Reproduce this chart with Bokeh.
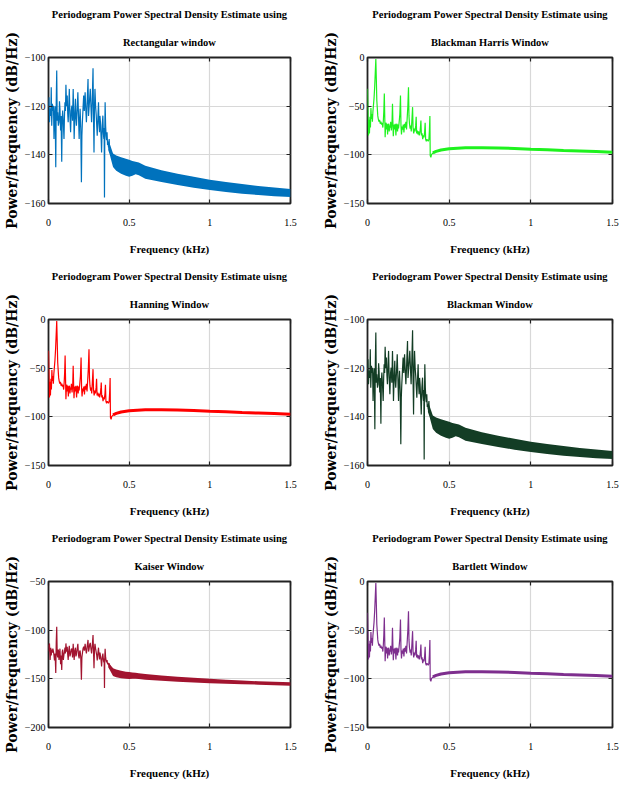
from bokeh.plotting import figure
from bokeh.layouts import gridplot
from bokeh.models import LinearAxis, FixedTicker, Title, Range1d
from bokeh.embed import file_html
from bokeh.resources import INLINE

# ---------------- data ----------------
freq_ticks = [0, 0.5, 1, 1.5]
freq_tick_labels = ["0", "0.5", "1", "1.5"]
rect_yticks = [-160, -140, -120, -100]
harris_yticks = [-150, -100, -50, 0]
kaiser_yticks = [-200, -150, -100, -50]

title_top = "Periodogram Power Spectral Density Estimate using"
title_top_hann = "Periodogram Power Spectral Density Estimate uisng"
window_names = ["Rectangular window", "Blackman Harris Window", "Hanning Window",
                "Blackman Window", "Kaiser Window", "Bartlett Window"]

# Rectangular window, 0 - 0.4 kHz (kHz, dB/Hz)
rect_f = [
    0.000, 0.003, 0.006, 0.010, 0.014, 0.017, 0.020, 0.024, 0.027, 0.031,
    0.034, 0.037, 0.041, 0.045, 0.048, 0.051, 0.054, 0.057, 0.061, 0.065,
    0.068, 0.071, 0.075, 0.078, 0.082, 0.085, 0.088, 0.092, 0.096, 0.099,
    0.102, 0.105, 0.108, 0.112, 0.116, 0.119, 0.122, 0.126, 0.129, 0.133,
    0.137, 0.141, 0.145, 0.149, 0.153, 0.156, 0.159, 0.163, 0.167, 0.170,
    0.173, 0.178, 0.182, 0.186, 0.190, 0.193, 0.196, 0.200, 0.204, 0.207,
    0.210, 0.214, 0.218, 0.222, 0.227, 0.231, 0.235, 0.240, 0.245, 0.248,
    0.251, 0.255, 0.259, 0.263, 0.267, 0.271, 0.276, 0.279, 0.282, 0.285,
    0.288, 0.292, 0.296, 0.299, 0.302, 0.306, 0.310, 0.313, 0.316, 0.319,
    0.322, 0.326, 0.329, 0.333, 0.337, 0.340, 0.343, 0.345, 0.347, 0.349,
    0.351, 0.354, 0.357, 0.360, 0.363, 0.366, 0.369, 0.372, 0.376, 0.379,
    0.382, 0.386, 0.390, 0.395, 0.400]
rect_p = [
    -119.8, -116.3, -126.6, -121.0, -124.0, -112.2, -128.0, -119.0, -122.0, -119.8,
    -133.5, -124.0, -120.0, -145.1, -118.0, -105.3, -126.0, -122.5, -128.0, -126.6,
    -118.0, -121.1, -130.0, -124.0, -142.8, -125.0, -121.8, -127.0, -133.5, -124.0,
    -118.4, -122.0, -111.2, -120.0, -115.6, -123.0, -126.6, -119.0, -112.9, -124.0,
    -130.7, -122.0, -119.8, -126.0, -112.9, -122.0, -133.5, -124.0, -117.0, -125.0,
    -128.0, -121.0, -114.3, -124.0, -133.5, -126.0, -121.1, -129.0, -151.3, -132.0,
    -126.6, -121.0, -115.6, -122.0, -114.3, -121.0, -126.6, -118.0, -108.8, -124.0,
    -121.1, -117.0, -112.9, -120.0, -126.6, -118.0, -104.4, -125.0, -139.0, -121.0,
    -112.9, -120.0, -123.9, -128.0, -132.1, -125.0, -118.4, -127.0, -130.7, -124.0,
    -126.6, -133.0, -139.0, -128.0, -123.9, -131.0, -133.5, -129.0, -157.5, -130.0,
    -118.4, -128.0, -132.1, -134.0, -130.7, -136.0, -134.8, -137.0, -133.5, -138.0,
    -137.6, -140.0, -139.0, -141.0, -140.3]
# Rectangular window, dense band above 0.37 kHz (upper / lower envelope)
band_f = [0.37, 0.38, 0.39, 0.40, 0.42, 0.45, 0.48, 0.50, 0.52, 0.54, 0.56,
          0.60, 0.70, 0.80, 0.90, 1.00, 1.10, 1.20, 1.30, 1.40, 1.50]
rect_band_hi = [-134.0, -135.5, -137.5, -139.5, -140.3, -141.0, -141.6, -142.0, -142.5, -142.8, -143.2,
                -144.5, -146.3, -147.8, -149.0, -150.2, -151.2, -152.0, -152.8, -153.4, -154.0]
rect_band_lo = [-138.0, -140.0, -142.5, -145.0, -146.5, -147.8, -148.6, -149.0, -148.6, -148.0, -148.4,
                -149.8, -151.2, -152.4, -153.5, -154.5, -155.3, -156.0, -156.5, -157.0, -157.3]

# Blackman window (same shape as rectangular in the reference)
blackman_f = rect_f
blackman_p = rect_p
blackman_band_hi = rect_band_hi
blackman_band_lo = rect_band_lo

# Kaiser window
kaiser_f = rect_f
kaiser_p = [
    -115.0, -122.0, -113.6, -130.6, -118.0, -126.0, -120.0, -123.0, -119.0, -122.0,
    -126.0, -131.0, -124.0, -144.0, -112.0, -96.6, -125.0, -128.0, -120.0, -130.6,
    -124.0, -119.0, -135.0, -126.0, -141.0, -122.0, -120.0, -130.6, -125.0, -122.0,
    -118.0, -124.0, -113.6, -122.0, -117.0, -125.0, -130.6, -120.0, -116.0, -127.0,
    -124.0, -120.0, -119.0, -128.0, -114.0, -123.0, -130.6, -121.0, -118.0, -127.0,
    -125.0, -119.0, -114.0, -126.0, -129.0, -122.0, -121.0, -128.0, -151.0, -128.0,
    -124.0, -119.0, -117.0, -121.0, -114.0, -120.0, -124.0, -116.0, -110.0, -122.0,
    -120.0, -115.0, -113.0, -119.0, -124.0, -117.0, -105.0, -122.0, -139.0, -120.0,
    -114.0, -119.0, -123.0, -126.0, -131.0, -124.0, -118.0, -125.0, -130.0, -123.0,
    -126.0, -131.0, -137.4, -128.0, -124.0, -130.0, -133.0, -129.0, -159.5, -127.0,
    -119.0, -128.0, -131.0, -133.0, -130.6, -135.0, -134.0, -136.0, -134.0, -137.0,
    -137.0, -139.0, -138.5, -140.0, -139.5]
kaiser_band_hi = [-133.0, -135.0, -137.0, -139.0, -140.5, -141.8, -142.6, -143.0, -143.4, -143.8, -144.2,
                  -145.0, -146.5, -147.8, -149.0, -150.0, -151.0, -151.8, -152.5, -153.0, -153.5]
kaiser_band_lo = [-138.0, -141.0, -144.0, -147.0, -148.5, -149.5, -150.0, -150.2, -150.0, -149.8, -150.2,
                  -151.0, -152.0, -153.0, -153.8, -154.5, -155.0, -155.5, -156.0, -156.5, -157.0]

# Blackman-Harris window, 0 - 0.4 kHz
harris_f = [
    0.000, 0.003, 0.006, 0.009, 0.012, 0.015, 0.018, 0.021, 0.024, 0.027,
    0.030, 0.033, 0.036, 0.040, 0.044, 0.048, 0.051, 0.054, 0.057, 0.060,
    0.063, 0.066, 0.070, 0.074, 0.078, 0.082, 0.086, 0.090, 0.094, 0.097,
    0.100, 0.103, 0.106, 0.108, 0.111, 0.114, 0.117, 0.120, 0.123, 0.126,
    0.130, 0.133, 0.136, 0.139, 0.142, 0.146, 0.150, 0.153, 0.156, 0.158,
    0.161, 0.164, 0.167, 0.170, 0.174, 0.177, 0.180, 0.184, 0.187, 0.190,
    0.194, 0.198, 0.202, 0.205, 0.208, 0.212, 0.215, 0.219, 0.223, 0.227,
    0.231, 0.235, 0.239, 0.243, 0.247, 0.251, 0.254, 0.257, 0.261, 0.264,
    0.268, 0.272, 0.276, 0.279, 0.283, 0.287, 0.291, 0.295, 0.298, 0.301,
    0.305, 0.309, 0.313, 0.317, 0.321, 0.325, 0.327, 0.330, 0.334, 0.338,
    0.342, 0.346, 0.350, 0.353, 0.356, 0.360, 0.364, 0.368, 0.372, 0.376,
    0.379, 0.382, 0.384, 0.388, 0.392, 0.396, 0.400]
harris_p = [
    -32.0, -55.0, -80.0, -64.0, -78.0, -61.0, -72.0, -52.0, -63.0, -58.0,
    -66.0, -56.0, -50.0, -42.0, -30.0, -14.0, -1.5, -22.0, -44.0, -52.0,
    -60.0, -63.0, -66.0, -64.0, -68.0, -66.0, -69.0, -67.0, -72.0, -65.0,
    -55.0, -37.0, -64.0, -82.0, -70.0, -67.0, -74.0, -68.0, -79.0, -70.0,
    -68.0, -76.0, -70.0, -72.0, -66.0, -75.0, -68.0, -47.5, -70.0, -81.0,
    -72.0, -69.0, -74.0, -68.0, -80.0, -70.0, -68.0, -76.0, -69.0, -73.0,
    -66.0, -58.0, -39.0, -70.0, -79.0, -71.0, -74.0, -69.0, -77.0, -68.0,
    -72.0, -66.0, -74.0, -62.0, -50.0, -30.5, -60.0, -68.0, -73.0, -70.0,
    -76.0, -64.0, -51.0, -72.0, -78.0, -73.0, -76.0, -70.0, -61.0, -78.0,
    -75.0, -79.0, -76.0, -80.0, -77.0, -70.0, -64.7, -80.0, -78.0, -84.0,
    -80.0, -82.0, -76.0, -67.0, -84.0, -86.0, -84.0, -85.0, -86.0, -84.0,
    -75.0, -60.0, -100.7, -102.5, -99.5, -99.0, -98.0]
# Blackman-Harris window, smooth part above 0.4 kHz
harris_tail_f = [0.400, 0.420, 0.450, 0.500, 0.550, 0.600, 0.700, 0.800,
                 0.900, 1.000, 1.100, 1.200, 1.300, 1.400, 1.500]
harris_tail_p = [-98.0, -96.5, -95.0, -93.8, -93.2, -92.8, -92.6, -93.0,
                 -93.5, -94.2, -94.8, -95.5, -96.1, -96.7, -97.3]

# Hanning and Bartlett windows (same shape as Blackman-Harris in the reference)
hann_f, hann_p, hann_tail_f, hann_tail_p = harris_f, harris_p, harris_tail_f, harris_tail_p
bart_f, bart_p, bart_tail_f, bart_tail_p = harris_f, harris_p, harris_tail_f, harris_tail_p

colors = ["#0072BD", "#1EF21E", "#FF0000", "#133D25", "#A2142F", "#7E2F8E"]

SERIF = "Liberation Serif"


def style_axis(ax, ticks, labels=None, hidden=False):
    ax.ticker = FixedTicker(ticks=ticks)
    ax.axis_line_color = None
    ax.major_tick_in = 4
    ax.major_tick_out = 0
    ax.major_tick_line_color = "#222222"
    ax.major_tick_line_width = 1.2
    ax.minor_tick_line_color = None
    ax.major_label_text_font = SERIF
    ax.major_label_text_color = "black"
    if hidden:
        # tick marks only (MATLAB "box on"): labels are not drawn at all
        ax.major_label_text_color = None
        ax.major_label_text_font_size = "1px"
        ax.major_label_standoff = 0
    else:
        ax.major_label_text_font_size = "10px"
    if labels is not None:
        ax.major_label_overrides = {t: s for t, s in zip(ticks, labels)}


def make_panel(col, top_text, bottom_text, color, f, p, y_lo, y_hi, yticks,
               band=None, tail=None):
    left = 45 if col == 0 else 53
    right = 24 if col == 0 else 16
    fig = figure(width=314, height=262, output_backend="svg", toolbar_location=None,
                 title=None, x_range=Range1d(0, 1.5), y_range=Range1d(y_lo, y_hi),
                 min_border_left=left, min_border_right=right,
                 min_border_top=57, min_border_bottom=59)
    fig.outline_line_color = "#222222"
    fig.outline_line_width = 1.8
    fig.background_fill_color = "white"
    fig.border_fill_color = "white"
    fig.xgrid.grid_line_color = "#d8d8d8"
    fig.ygrid.grid_line_color = "#d8d8d8"
    fig.xgrid.grid_line_width = 1.2
    fig.ygrid.grid_line_width = 1.2
    fig.xgrid.ticker = FixedTicker(ticks=freq_ticks)
    fig.ygrid.ticker = FixedTicker(ticks=yticks)

    if band is not None:
        bf, bhi, blo = band
        fig.varea(x=bf, y1=blo, y2=bhi, fill_color=color)
    fig.line(f, p, line_color=color, line_width=1.2)
    if tail is not None:
        tf, tp = tail
        fig.line(tf, tp, line_color=color, line_width=3)

    xa = fig.xaxis[0]
    style_axis(xa, freq_ticks, freq_tick_labels)
    xa.major_label_standoff = 15
    xa.axis_label = "Frequency (kHz)"
    xa.axis_label_text_font = SERIF
    xa.axis_label_text_font_style = "bold"
    xa.axis_label_text_font_size = "11px"
    xa.axis_label_text_color = "black"
    xa.axis_label_standoff = 14

    ya = fig.yaxis[0]
    style_axis(ya, yticks)
    ya.major_label_standoff = 3
    ya.axis_label = "Power/frequency (dB/Hz)"
    ya.axis_label_text_font = "DejaVu Serif"
    ya.axis_label_text_font_style = "bold"
    ya.axis_label_text_font_size = "14px"
    ya.axis_label_text_color = "black"
    ya.axis_label_standoff = 2

    top_ax = LinearAxis()
    style_axis(top_ax, freq_ticks, hidden=True)
    fig.add_layout(top_ax, "above")
    right_ax = LinearAxis()
    style_axis(right_ax, yticks, hidden=True)
    fig.add_layout(right_ax, "right")

    fig.add_layout(Title(text=bottom_text, align="center", text_font=SERIF,
                         text_font_size="10.5px", text_font_style="bold",
                         text_color="black", standoff=20), "above")
    fig.add_layout(Title(text=top_text, align="center", text_font=SERIF,
                         text_font_size="10.5px", text_font_style="bold",
                         text_color="black", standoff=9), "above")
    return fig


p1 = make_panel(0, title_top, window_names[0], colors[0], rect_f, rect_p, -160, -100,
                rect_yticks, band=(band_f, rect_band_hi, rect_band_lo))
p2 = make_panel(1, title_top, window_names[1], colors[1], harris_f, harris_p, -150, 0,
                harris_yticks, tail=(harris_tail_f, harris_tail_p))
p3 = make_panel(0, title_top_hann, window_names[2], colors[2], hann_f, hann_p, -150, 0,
                harris_yticks, tail=(hann_tail_f, hann_tail_p))
p4 = make_panel(1, title_top, window_names[3], colors[3], blackman_f, blackman_p, -160, -100,
                rect_yticks, band=(band_f, blackman_band_hi, blackman_band_lo))
p5 = make_panel(0, title_top, window_names[4], colors[4], kaiser_f, kaiser_p, -200, -50,
                kaiser_yticks, band=(band_f, kaiser_band_hi, kaiser_band_lo))
p6 = make_panel(1, title_top, window_names[5], colors[5], bart_f, bart_p, -150, 0,
                harris_yticks, tail=(bart_tail_f, bart_tail_p))

grid = gridplot([[p1, p2], [p3, p4], [p5, p6]], toolbar_location=None)

open("out.html", "w").write(file_html(grid, INLINE))
